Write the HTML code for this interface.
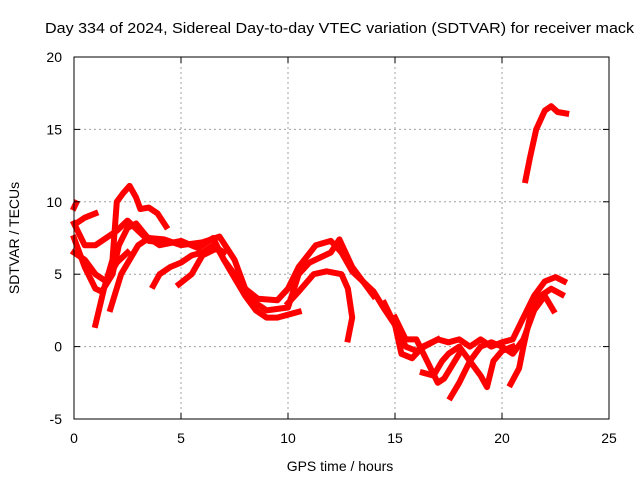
<!DOCTYPE html>
<html><head><meta charset="utf-8"><style>
body{margin:0;background:#fff;}
svg{display:block;font-family:"Liberation Sans",sans-serif;}
</style></head><body>
<svg id="chart" width="640" height="480">
<rect width="640" height="480" fill="#fff"/>
<text x="45" y="33" font-size="15" textLength="589" lengthAdjust="spacingAndGlyphs">Day 334 of 2024, Sidereal Day-to-day VTEC variation (SDTVAR) for receiver mack</text>
<text x="340" y="471" font-size="14" text-anchor="middle">GPS time / hours</text>
<text x="19" y="238" font-size="14" text-anchor="middle" transform="rotate(-90 19 238)">SDTVAR / TECUs</text>
<g id="grid"></g>
<g id="series"></g>
<rect x="74" y="57" width="535" height="362" fill="none" stroke="#000" stroke-width="1"/>
<g id="ticks"></g>
</svg>
<script>
const xTicks=[0,5,10,15,20,25];
const yTicks=[-5,0,5,10,15,20];
const track1X=[1.0,1.4,1.8,2.0,2.3,2.6,2.9,3.1,3.5,3.9,4.3];
const track1Y=[1.5,4,6,10,10.6,11.1,10.3,9.5,9.6,9.2,8.3];
const track2X=[0,0.1];
const track2Y=[9.6,9.9];
const track2bX=[0.1,0.5,1.0];
const track2bY=[8.5,8.9,9.2];
const track3X=[0,0.5,1.0,1.3,1.8,2.1,2.5,2.9,3.4,4,5,5.8,6.5,7,7.5,8,8.5,9,10,10.5,11,12,12.4,13,13.5,14,14.5,15,15.5,16,17];
const track3Y=[7.5,5.5,4,3.8,5,7,8.2,8.5,7.6,7,7.3,6.8,7.5,6,5,4,3,2.5,2.7,5,5.8,6.5,7.4,5.5,4.5,3.8,2.6,1.5,0,-0.3,0.5];
const track4X=[0,0.5,1,1.5,2,2.5,3,3.5,4];
const track4Y=[8.5,7,7,7.5,8,8.7,8,7.3,7.2];
const track5X=[0,0.5,1,1.5,2,2.5];
const track5Y=[6.5,6,5,4.5,5.8,6.5];
const track6X=[1.7,2.2,3,3.5,4.2,5,6,6.8,7.5,8,8.6,9.5,10,10.5,11.3,12,12.5,13,13.5,14];
const track6Y=[2.6,5,7,7.5,7.4,7,7.2,7.6,6,4,3.3,3.2,4,5.5,7,7.3,6.5,5.2,4.5,3.5];
const track7X=[3.7,4,4.5,5,5.5,6,6.5,7];
const track7Y=[4.2,5,5.5,5.8,6.3,6.5,7,6.5];
const track8X=[4.9,5.5,6,6.7,7.2,8,8.5,9,9.5,10,10.5];
const track8Y=[4.3,5,6.3,6.8,5.5,3.5,2.5,2,2,2.2,2.4];
const track9X=[10,10.5,11.2,11.8,12.5,12.8,13,12.8];
const track9Y=[3,3.8,5,5.2,5,4,2,0.5];
const track10X=[14.5,15,15.3,15.8,16.3,17,17.5,18,18.5,19,19.5,20,20.5,21,21.5,22,22.5,22.9];
const track10Y=[3,1.5,-0.5,-0.8,0,0.5,0.3,0.5,0,0.5,0,0.3,0.5,2,3.5,4.5,4.8,4.5];
const track11X=[16.3,16.8,17.2,17.5,18,18.5,19,19.3,19.6,20,20.5];
const track11Y=[-1.8,-2,-1,-0.5,0,-1,-2,-2.8,-1,-0.3,0];
const track12X=[17.6,18,18.5,19,19.5,20,20.5,21,21.5,22,22.4];
const track12Y=[-3.5,-2.5,-1,0,0.3,0,-0.5,0.5,2.5,3.5,2.5];
const track13X=[20.4,20.8,21,21.3,21.8,22.3,22.8];
const track13Y=[-2.6,-1.5,0,2,3.5,4,3.6];
const track14X=[21.1,21.3,21.6,22,22.3,22.6,23];
const track14Y=[11.5,13,15,16.3,16.6,16.2,16.1];
const track15X=[15,15.5,16,16.5,17,17.3,18];
const track15Y=[2,0.5,0.5,-1,-2.5,-2.2,-0.5];
const tracks=[[track1X,track1Y],[track2X,track2Y],[track2bX,track2bY],[track3X,track3Y],[track4X,track4Y],[track5X,track5Y],[track6X,track6Y],[track7X,track7Y],[track8X,track8Y],[track9X,track9Y],[track10X,track10Y],[track11X,track11Y],[track12X,track12Y],[track13X,track13Y],[track14X,track14Y],[track15X,track15Y]];

const NS="http://www.w3.org/2000/svg";
const X0=74,X1=609,Y0=419,Y1=57;
function sx(v){return X0+(v-0)/(25-0)*(X1-X0);}
function sy(v){return Y0-(v+5)/(20+5)*(Y0-Y1);}
const grid=document.getElementById('grid'),ticks=document.getElementById('ticks'),ser=document.getElementById('series');
function mk(tag,attrs,parent){const e=document.createElementNS(NS,tag);for(const k in attrs)e.setAttribute(k,attrs[k]);parent.appendChild(e);return e;}
xTicks.forEach(t=>{
  const x=sx(t);
  if(t>0&&t<25){const g=mk('line',{x1:x,x2:x,y1:Y1,y2:Y0,stroke:'#a0a0a0','stroke-dasharray':'2,3'},grid);
  
  }
  mk('line',{x1:x,x2:x,y1:Y0,y2:Y0-6,stroke:'#000'},ticks);
  mk('line',{x1:x,x2:x,y1:Y1,y2:Y1+6,stroke:'#000'},ticks);
  const l=mk('text',{x:x,y:443,'font-size':14,'text-anchor':'middle'},ticks);
  l.textContent=t;
  
  
});
yTicks.forEach(t=>{
  const y=sy(t);
  if(t>-5&&t<20){const g=mk('line',{x1:X0,x2:X1,y1:y,y2:y,stroke:'#a0a0a0','stroke-dasharray':'2,3'},grid);
  
  }
  mk('line',{x1:X0,x2:X0+6,y1:y,y2:y,stroke:'#000'},ticks);
  mk('line',{x1:X1,x2:X1-6,y1:y,y2:y,stroke:'#000'},ticks);
  const l=mk('text',{x:62,y:y+5,'font-size':14,'text-anchor':'end'},ticks);
  l.textContent=t;
  
  
});
tracks.forEach(([xs,ys])=>{
  const pts=xs.map((v,i)=>sx(v).toFixed(1)+','+sy(ys[i]).toFixed(1)).join(' ');
  const p=mk('polyline',{points:pts,fill:'none',stroke:'#ff0000','stroke-width':6,'stroke-linejoin':'round','stroke-linecap':'square'},ser);
  
  
});
</script>
</body></html>
